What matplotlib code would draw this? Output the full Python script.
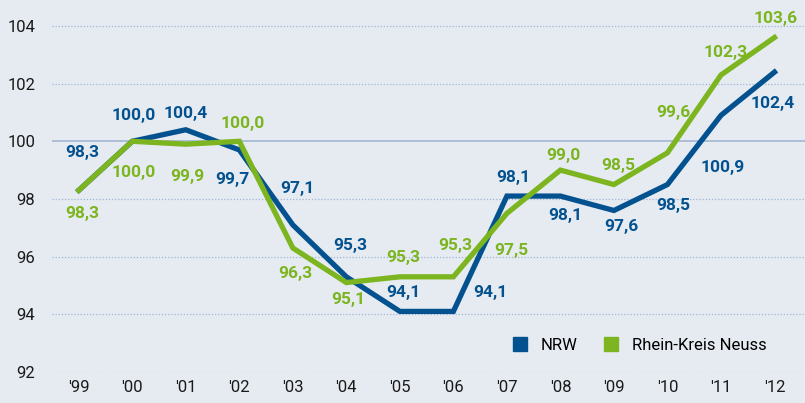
import matplotlib.pyplot as plt
from matplotlib.patches import Patch

# data
years = ["'99", "'00", "'01", "'02", "'03", "'04", "'05", "'06",
         "'07", "'08", "'09", "'10", "'11", "'12"]
nrw = [98.3, 100.0, 100.4, 99.7, 97.1, 95.3, 94.1, 94.1,
       98.1, 98.1, 97.6, 98.5, 100.9, 102.4]
neuss = [98.3, 100.0, 99.9, 100.0, 96.3, 95.1, 95.3, 95.3,
         97.5, 99.0, 98.5, 99.6, 102.3, 103.6]
y_ticks = [92, 94, 96, 98, 100, 102, 104]

# label offsets in pixels (dx, dy), chosen by eye
nrw_off = [(3, 38), (1, 26), (0, 16), (-7, -30), (5, 36), (4, 31), (4, 19),
           (37, 19), (6, 19), (5, -19), (7, -16), (6, -21), (2, -52), (-2, -31)]
neuss_off = [(3, -23), (1, -31), (2, -32), (3, 18), (2, -26), (2, -17), (3, 19),
             (2, 31), (4, -37), (3, 15), (4, 19), (6, 40), (5, 22), (1, 19)]

blue = '#03528f'
green = '#7cb51f'
bg = '#e6ebf2'

plt.rcParams['font.family'] = ['Roboto', 'DejaVu Sans']

fig = plt.figure(figsize=(8.05, 4.03), dpi=100, facecolor=bg)
ax = fig.add_axes([0.0646, 0.077, 0.9354, 0.923])
ax.set_facecolor(bg)

x = list(range(len(years)))
for yv in y_ticks:
    if yv == 100:
        ax.axhline(yv, color='#a3b6d1', lw=1.2, zorder=1)
    else:
        ax.axhline(yv, color='#9fb4d3', lw=0.9, ls=(0, (1, 1.5)), zorder=1)

ax.plot(x, nrw, color=blue, lw=3.8, solid_joinstyle='miter', zorder=3)
ax.plot(x, neuss, color=green, lw=3.8, solid_joinstyle='miter', zorder=4)

for i, v in enumerate(nrw):
    ax.annotate(f'{v:.1f}'.replace('.', ','), (i, v), xytext=nrw_off[i],
                textcoords='offset pixels', ha='center', va='center',
                color=blue, fontsize=12.5, fontweight='bold', zorder=5)
for i, v in enumerate(neuss):
    ax.annotate(f'{v:.1f}'.replace('.', ','), (i, v), xytext=neuss_off[i],
                textcoords='offset pixels', ha='center', va='center',
                color=green, fontsize=12.5, fontweight='bold', zorder=5)

ax.set_xlim(-0.5, 13.57)
ax.set_ylim(92, 104.9)
ax.set_xticks(x)
ax.set_xticklabels(years, fontsize=12)
ax.set_yticks(y_ticks)
ax.set_yticklabels([str(t) for t in y_ticks], fontsize=12)
ax.tick_params(length=0, colors='#1a1a1a')
ax.tick_params(axis='y', pad=12)
ax.tick_params(axis='x', pad=6)
for s in ax.spines.values():
    s.set_visible(False)

handles = [Patch(color=blue, label='NRW'), Patch(color=green, label='Rhein-Kreis Neuss')]
ax.legend(handles=handles, loc='center right', bbox_to_anchor=(0.9575, 0.0726),
          borderaxespad=0, ncol=2, frameon=False, fontsize=12,
          handlelength=0.85, handleheight=0.85,
          handletextpad=0.8, columnspacing=1.6)

fig.savefig('out.png', dpi=100, facecolor=bg)
